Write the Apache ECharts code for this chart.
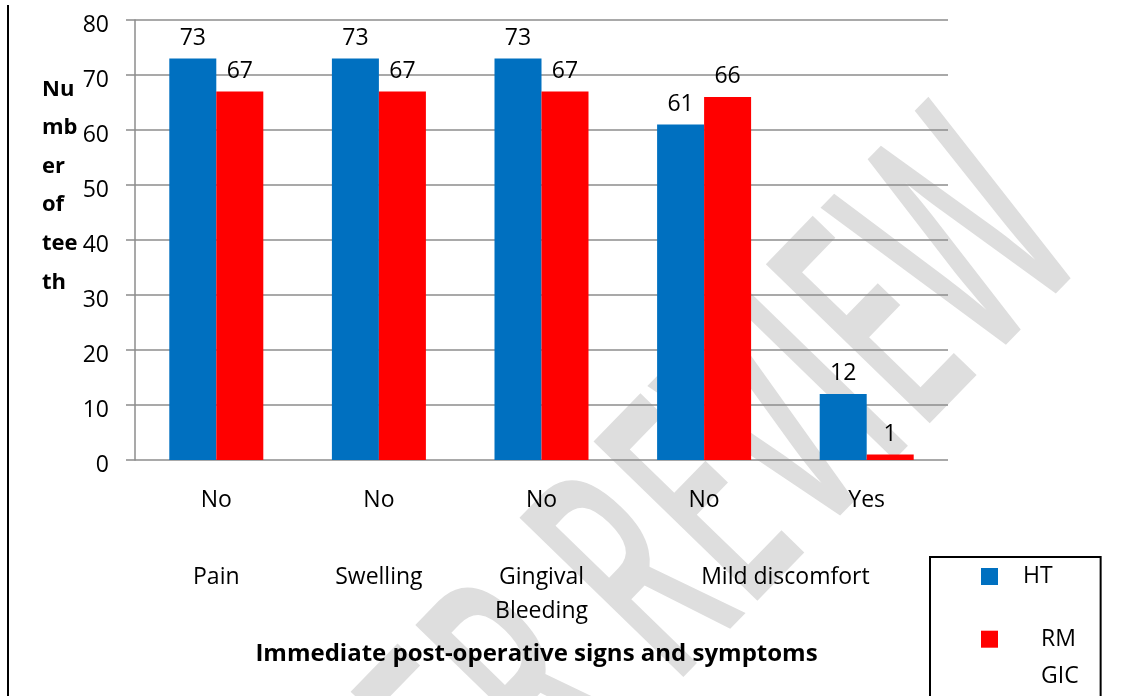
<!DOCTYPE html>
<html>
<head>
<meta charset="utf-8">
<script src="https://cdn.jsdelivr.net/npm/echarts@6/dist/echarts.min.js"></script>
<style>
  html, body { margin: 0; padding: 0; background: #fff; }
  #chart { width: 1143px; height: 696px; }
</style>
</head>
<body>
<div id="chart"></div>
<script>
var answers = ['No', 'No', 'No', 'No', 'Yes'];
var htValues = [73, 73, 73, 61, 12];
var rmValues = [67, 67, 67, 66, 1];
var seriesNames = ['HT', 'RM GIC'];
// symptom groups, placed on a half-category scale (0..10)
var groupLabels = ['Pain', 'Swelling', 'Gingival\nBleeding', 'Mild discomfort'];
var groupPositions = [1, 3, 5, 8];
var yTicks = [0, 10, 20, 30, 40, 50, 60, 70, 80];

var FONT = 'Open Sans';
var chart = echarts.init(document.getElementById('chart'));

function groupLabel(value) {
  var idx = groupPositions.indexOf(Math.round(value));
  return idx >= 0 ? groupLabels[idx] : '';
}

var option = {
  animation: false,
  backgroundColor: '#ffffff',
  textStyle: { fontFamily: FONT },
  title: {
    text: 'Nu\nmb\ner\nof\ntee\nth',
    left: 42,
    top: 70,
    padding: 0,
    textStyle: {
      fontFamily: FONT,
      fontWeight: 'bold',
      fontSize: 22,
      lineHeight: 38.6,
      color: '#000'
    }
  },
  legend: {
    orient: 'vertical',
    left: 930,
    top: 557,
    height: 220,
    padding: [8, 22, 40, 51],
    borderColor: '#000',
    borderWidth: 2,
    itemWidth: 17,
    itemHeight: 17,
    itemGap: 2,
    icon: 'rect',
    data: seriesNames,
    formatter: function (name) {
      if (name === 'RM GIC') return '{s| }\n{b|RM}\n{b|GIC}';
      return '{a|' + name + '}';
    },
    textStyle: {
      fontFamily: FONT,
      fontSize: 23,
      color: '#000',
      rich: {
        a: { fontFamily: FONT, fontSize: 23, lineHeight: 20, padding: [0, 0, 0, 20] },
        s: { fontFamily: FONT, fontSize: 23, lineHeight: 37.7 },
        b: { fontFamily: FONT, fontSize: 23, lineHeight: 37.7, padding: [0, 0, 0, 38] }
      }
    }
  },
  grid: {
    left: 135,
    right: 195,
    top: 20,
    bottom: 236,
    containLabel: false
  },
  xAxis: [
    {
      type: 'category',
      data: answers,
      axisLine: { show: false },
      axisTick: { show: false },
      axisLabel: { margin: 29, fontFamily: FONT, fontSize: 23, color: '#000' }
    },
    {
      type: 'value',
      position: 'bottom',
      min: 0,
      max: 10,
      interval: 1,
      axisLine: { show: false },
      axisTick: { show: false },
      splitLine: { show: false },
      axisLabel: {
        margin: 100,
        fontFamily: FONT,
        fontSize: 23,
        lineHeight: 34,
        color: '#000',
        formatter: groupLabel
      },
      name: 'Immediate post-operative signs and symptoms',
      nameLocation: 'middle',
      nameGap: 182,
      nameTextStyle: {
        fontFamily: FONT,
        fontWeight: 'bold',
        fontSize: 24,
        color: '#000',
        padding: [0, 10, 0, 0]
      }
    }
  ],
  yAxis: {
    type: 'value',
    min: yTicks[0],
    max: yTicks[yTicks.length - 1],
    interval: 10,
    axisLine: { show: true, lineStyle: { color: '#8c8c8c', width: 1.5 } },
    axisTick: { show: true, length: 9, lineStyle: { color: '#8c8c8c', width: 1.5 } },
    splitLine: { show: true, lineStyle: { color: '#8c8c8c', width: 1.5 } },
    axisLabel: {
      margin: 26,
      color: '#000',
      formatter: function (value) {
        return '{v|' + value + '}';
      },
      rich: {
        v: { fontFamily: FONT, fontSize: 23, color: '#000', padding: [11, 0, 0, 0] }
      }
    }
  },
  series: [
    {
      name: seriesNames[0],
      type: 'bar',
      data: htValues,
      barWidth: 47,
      barGap: '0%',
      itemStyle: { color: '#0070C0' },
      label: {
        show: true,
        position: 'top',
        distance: 9,
        fontFamily: FONT,
        fontSize: 23,
        color: '#000'
      },
      z: 3
    },
    {
      name: seriesNames[1],
      type: 'bar',
      data: rmValues,
      barWidth: 47,
      barGap: '0%',
      itemStyle: { color: '#FF0000' },
      label: {
        show: true,
        position: 'top',
        distance: 9,
        fontFamily: FONT,
        fontSize: 23,
        color: '#000'
      },
      z: 3
    }
  ],
  graphic: [
    {
      type: 'rect',
      left: 7,
      top: 5,
      shape: { width: 2, height: 700 },
      style: { fill: '#000' },
      silent: true
    },
    {
      type: 'text',
      x: 665,
      y: 565,
      rotation: 0.8,
      scaleX: 0.52,
      z: -10,
      silent: true,
      style: {
        text: 'PEER REVIEW',
        fontFamily: 'Open Sans',
        fontWeight: 600,
        fontSize: 320,
        fill: '#dedede',
        align: 'center',
        verticalAlign: 'middle'
      }
    }
  ]
};

chart.setOption(option);
window.addEventListener('resize', function () {
  chart.resize();
});
</script>
</body>
</html>
